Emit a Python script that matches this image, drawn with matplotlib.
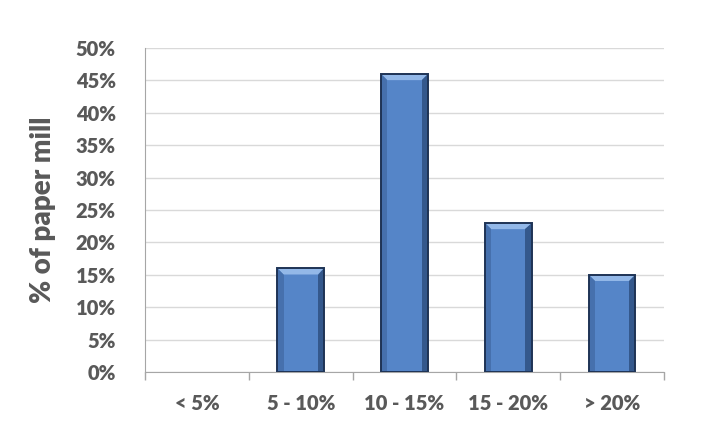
import numpy as np
import matplotlib.pyplot as plt
from matplotlib.patches import Polygon, Rectangle

categories = ["< 5%", "5 - 10%", "10 - 15%", "15 - 20%", "> 20%"]
share = [0, 16, 46, 23, 15]
yticks = [0, 5, 10, 15, 20, 25, 30, 35, 40, 45, 50]

plt.rcParams['font.family'] = ['Lato', 'DejaVu Sans']
txt = '#595959'

fig = plt.figure(figsize=(7.02, 4.45), dpi=100)
ax = fig.add_axes([0.2066, 0.164, 0.7393, 0.728])

x = np.arange(len(categories))
width = 0.45
face = '#5585C8'
edge = '#1E3355'

ax.set_xlim(-0.5, len(categories) - 0.5)
ax.set_ylim(0, 50)

# bevel sizes in data units (about 6 px)
bx = 0.06
by = 0.95
for xi, v in zip(x, share):
    if v <= 0:
        continue
    l, r = xi - width / 2, xi + width / 2
    ax.add_patch(Rectangle((l, 0), width, v, facecolor=face, edgecolor='none', zorder=3))
    # top bevel (light)
    ax.add_patch(Polygon([(l, v), (r, v), (r - bx, v - by), (l + bx, v - by)],
                         closed=True, facecolor='#93B8E8', edgecolor='none', zorder=4))
    # right bevel (dark)
    ax.add_patch(Polygon([(r, v), (r, 0), (r - bx, 0), (r - bx, v - by)],
                         closed=True, facecolor='#34588C', edgecolor='none', zorder=4))
    # left bevel
    ax.add_patch(Polygon([(l, v), (l, 0), (l + bx, 0), (l + bx, v - by)],
                         closed=True, facecolor='#4670AD', edgecolor='none', zorder=4))
    ax.add_patch(Rectangle((l, 0), width, v, facecolor='none', edgecolor=edge,
                           linewidth=1.4, zorder=5))

ax.set_yticks(yticks)
ax.set_yticklabels([f"{t}%" for t in yticks])
ax.grid(axis='y', color='#D9D9D9', linewidth=1, zorder=0)
ax.set_axisbelow(True)

ax.set_xticks(x)
ax.set_xticklabels(categories)
ax.set_xticks(np.arange(-0.5, len(categories)), minor=True)
ax.tick_params(axis='x', which='major', length=0, pad=16,
               labelsize=14.5, labelcolor=txt)
ax.tick_params(axis='x', which='minor', length=6, color='#A6A6A6', width=1)
ax.tick_params(axis='y', length=0, labelsize=14.5, labelcolor=txt, pad=21)
for lab in ax.get_xticklabels() + ax.get_yticklabels():
    lab.set_fontweight('heavy')

for s in ['top', 'right']:
    ax.spines[s].set_visible(False)
ax.spines['left'].set_color('#A6A6A6')
ax.spines['bottom'].set_color('#A6A6A6')

ax.set_ylabel("% of paper mill", fontsize=20, fontweight='heavy', color=txt, labelpad=14)

fig.savefig("out.png", dpi=100)
